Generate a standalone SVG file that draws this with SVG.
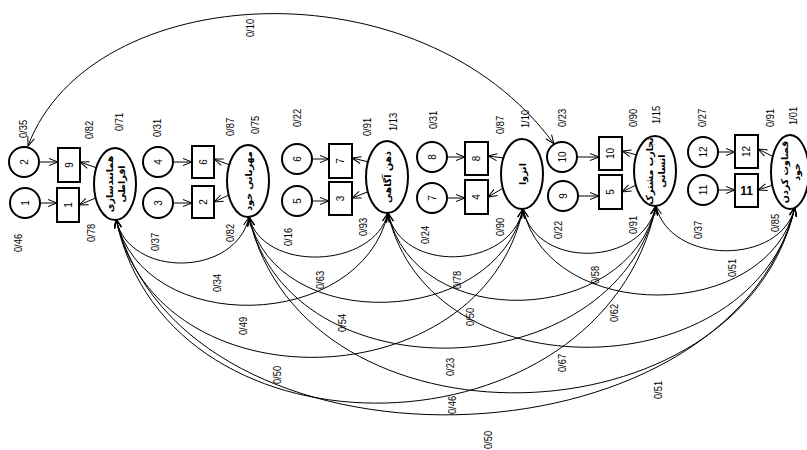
<svg xmlns="http://www.w3.org/2000/svg" width="807" height="450" viewBox="0 0 807 450">
<style>
.n{fill:#fff;stroke:#000;stroke-width:2}
.c{fill:none;stroke:#000;stroke-width:1}
.a{marker-end:url(#ah)}
.d{marker-start:url(#ah);marker-end:url(#ah)}
text{font-family:"Liberation Sans",Arial,sans-serif;font-size:11px;fill:#000;text-anchor:middle;dominant-baseline:central}
.s{font-size:10px}
.p{font-family:"DejaVu Sans","Noto Sans",sans-serif;font-size:9.5px;font-weight:bold}
.b{font-weight:bold;font-size:12px}
</style>
<defs>
<marker id="ah" viewBox="-10 -5 11 10" refX="0" refY="0" markerWidth="11" markerHeight="10" markerUnits="userSpaceOnUse" orient="auto-start-reverse"><path d="M-9,-3.5L0,0L-9,3.5" fill="none" stroke="#000" stroke-width="1"/></marker>
</defs>

<g id="connectors" class="c">
<path class="a" d="M39,162H58"/><path class="a" d="M40,203H57"/>
<path class="a" d="M173,162H192"/><path class="a" d="M173,203H192"/>
<path class="a" d="M312,159H329"/><path class="a" d="M312,201H329"/>
<path class="a" d="M447,157H465"/><path class="a" d="M447,198H465"/>
<path class="a" d="M577,157H599"/><path class="a" d="M578,196H599"/>
<path class="a" d="M718,152H735"/><path class="a" d="M718,190H735"/>
<path class="a" d="M97,168L80,162"/><path class="a" d="M98,197L79,205"/>
<path class="a" d="M230,165L214,159"/><path class="a" d="M231,194L214,202"/>
<path class="a" d="M369,162L352,158"/><path class="a" d="M370,191L352,198"/>
<path class="a" d="M504,158L488,156"/><path class="a" d="M505,187L488,197"/>
<path class="a" d="M637,155L622,151"/><path class="a" d="M638,184L622,192"/>
<path class="a" d="M772,156L758,149"/><path class="a" d="M773,185L758,190"/>
<path class="d" d="M28,146C90,-20 420,-40 554,144"/>
<path class="d" d="M116,219C129,279 236,277 249,217"/>
<path class="d" d="M249,217C263,273 374,269 388,213"/>
<path class="d" d="M388,213C401,274 510,270 523,209"/>
<path class="d" d="M523,209C536,270 643,267 656,206"/>
<path class="d" d="M656,206C670,265 781,266 795,207"/>
<path class="d" d="M116,219C143,338 361,332 388,213"/>
<path class="d" d="M249,217C276,336 496,328 523,209"/>
<path class="d" d="M388,213C415,334 629,327 656,206"/>
<path class="d" d="M523,209C550,325 768,323 795,207"/>
<path class="d" d="M116,219C157,410 482,400 523,209"/>
<path class="d" d="M249,217C290,399 615,388 656,206"/>
<path class="d" d="M388,213C429,396 754,390 795,207"/>
<path class="d" d="M116,219C170,473 602,460 656,206"/>
<path class="d" d="M249,217C304,458 740,448 795,207"/>
<path class="d" d="M116,219C184,488 727,476 795,207"/>
</g>

<g id="e2"><circle class="n" cx="24" cy="162" r="15"/><text class="s" transform="translate(24,162) rotate(-90)">2</text></g>
<g id="e1"><circle class="n" cx="25" cy="203" r="15"/><text class="s" transform="translate(25,203) rotate(-90)">1</text></g>
<g id="v9"><rect class="n" x="58" y="148" width="22" height="34"/><text class="s" transform="translate(69,165) rotate(-90)">9</text></g>
<g id="v1"><rect class="n" x="57" y="188" width="22" height="34"/><text class="s" transform="translate(68,205) rotate(-90)">1</text></g>
<g id="f1"><ellipse class="n" cx="115" cy="184" rx="21" ry="36"/><text class="p" transform="translate(115,184) rotate(-90)"><tspan x="0" y="-6">همانندسازی</tspan><tspan x="0" y="6">افراطی</tspan></text></g>

<g id="e4"><circle class="n" cx="158" cy="162" r="15"/><text class="s" transform="translate(158,162) rotate(-90)">4</text></g>
<g id="e3"><circle class="n" cx="158" cy="203" r="15"/><text class="s" transform="translate(158,203) rotate(-90)">3</text></g>
<g id="v6"><rect class="n" x="192" y="146" width="22" height="32"/><text class="s" transform="translate(203,162) rotate(-90)">6</text></g>
<g id="v2"><rect class="n" x="192" y="186" width="22" height="32"/><text class="s" transform="translate(203,202) rotate(-90)">2</text></g>
<g id="f2"><ellipse class="n" cx="248" cy="181" rx="21" ry="36"/><text class="p" transform="translate(248,181) rotate(-90)">مهربانی خود</text></g>

<g id="e6"><circle class="n" cx="297" cy="159" r="15"/><text class="s" transform="translate(297,159) rotate(-90)">6</text></g>
<g id="e5"><circle class="n" cx="297" cy="201" r="15"/><text class="s" transform="translate(297,201) rotate(-90)">5</text></g>
<g id="v7"><rect class="n" x="329" y="144" width="23" height="34"/><text class="s" transform="translate(340.5,161) rotate(-90)">7</text></g>
<g id="v3"><rect class="n" x="329" y="182" width="23" height="33"/><text class="s" transform="translate(340.5,198.5) rotate(-90)">3</text></g>
<g id="f3"><ellipse class="n" cx="387" cy="177" rx="21" ry="36"/><text class="p" transform="translate(387,177) rotate(-90)">ذهن آگاهی</text></g>

<g id="e8"><circle class="n" cx="432" cy="157" r="15"/><text class="s" transform="translate(432,157) rotate(-90)">8</text></g>
<g id="e7"><circle class="n" cx="432" cy="198" r="15"/><text class="s" transform="translate(432,198) rotate(-90)">7</text></g>
<g id="v8"><rect class="n" x="465" y="142" width="23" height="33"/><text class="s" transform="translate(476.5,158.5) rotate(-90)">8</text></g>
<g id="v4"><rect class="n" x="465" y="180" width="23" height="34"/><text class="s" transform="translate(476.5,197) rotate(-90)">4</text></g>
<g id="f4"><ellipse class="n" cx="522" cy="174" rx="21" ry="35"/><text class="p" transform="translate(522,174) rotate(-90)">انزوا</text></g>

<g id="e10"><circle class="n" cx="562" cy="157" r="15"/><text class="s" transform="translate(562,157) rotate(-90)">10</text></g>
<g id="e9"><circle class="n" cx="563" cy="196" r="15"/><text class="s" transform="translate(563,196) rotate(-90)">9</text></g>
<g id="v10"><rect class="n" x="599" y="137" width="23" height="33"/><text class="s" transform="translate(610.5,153.5) rotate(-90)">10</text></g>
<g id="v5"><rect class="n" x="599" y="175" width="23" height="34"/><text class="s" transform="translate(610.5,192) rotate(-90)">5</text></g>
<g id="f5"><ellipse class="n" cx="655" cy="171" rx="21" ry="35"/><text class="p" transform="translate(655,171) rotate(-90)"><tspan x="0" y="-6">تجارب مشترک</tspan><tspan x="0" y="6">انسانی</tspan></text></g>

<g id="e12"><circle class="n" cx="703" cy="152" r="15"/><text class="s" transform="translate(703,152) rotate(-90)">12</text></g>
<g id="e11"><circle class="n" cx="703" cy="190" r="15"/><text class="s" transform="translate(703,190) rotate(-90)">11</text></g>
<g id="v12"><rect class="n" x="735" y="135" width="23" height="33"/><text class="s" transform="translate(746.5,151.5) rotate(-90)">12</text></g>
<g id="v11"><rect class="n" x="735" y="174" width="23" height="33"/><text class="b" x="746.5" y="190.5">11</text></g>
<g id="f6"><ellipse class="n" cx="790" cy="172" rx="19" ry="37"/><text class="p" transform="translate(790,172) rotate(-90)"><tspan x="0" y="-6">قضاوت کردن</tspan><tspan x="0" y="6">خود</tspan></text></g>

<g id="labels">
<text transform="translate(250,28) rotate(-90) scale(.85,1)">0/10</text>
<text transform="translate(23,129) rotate(-90) scale(.85,1)">0/35</text>
<text transform="translate(89,130) rotate(-90) scale(.85,1)">0/82</text>
<text transform="translate(119,122) rotate(-90) scale(.85,1)">0/71</text>
<text transform="translate(157,128) rotate(-90) scale(.85,1)">0/31</text>
<text transform="translate(230,127) rotate(-90) scale(.85,1)">0/87</text>
<text transform="translate(255,125) rotate(-90) scale(.85,1)">0/75</text>
<text transform="translate(297,118) rotate(-90) scale(.85,1)">0/22</text>
<text transform="translate(367,127) rotate(-90) scale(.85,1)">0/91</text>
<text transform="translate(393,122) rotate(-90) scale(.85,1)">1/13</text>
<text transform="translate(433,120) rotate(-90) scale(.85,1)">0/31</text>
<text transform="translate(500,125) rotate(-90) scale(.85,1)">0/87</text>
<text transform="translate(525,119) rotate(-90) scale(.85,1)">1/10</text>
<text transform="translate(562,118) rotate(-90) scale(.85,1)">0/23</text>
<text transform="translate(633,118) rotate(-90) scale(.85,1)">0/90</text>
<text transform="translate(656,115) rotate(-90) scale(.85,1)">1/15</text>
<text transform="translate(702,118) rotate(-90) scale(.85,1)">0/27</text>
<text transform="translate(770,118) rotate(-90) scale(.85,1)">0/91</text>
<text transform="translate(793,116) rotate(-90) scale(.85,1)">1/01</text>
<text transform="translate(18,243) rotate(-90) scale(.85,1)">0/46</text>
<text transform="translate(91,233) rotate(-90) scale(.85,1)">0/78</text>
<text transform="translate(155,242) rotate(-90) scale(.85,1)">0/37</text>
<text transform="translate(230,233) rotate(-90) scale(.85,1)">0/82</text>
<text transform="translate(288,237) rotate(-90) scale(.85,1)">0/16</text>
<text transform="translate(363,227) rotate(-90) scale(.85,1)">0/93</text>
<text transform="translate(425,235) rotate(-90) scale(.85,1)">0/24</text>
<text transform="translate(500,227) rotate(-90) scale(.85,1)">0/90</text>
<text transform="translate(558,230) rotate(-90) scale(.85,1)">0/22</text>
<text transform="translate(633,225) rotate(-90) scale(.85,1)">0/91</text>
<text transform="translate(698,230) rotate(-90) scale(.85,1)">0/37</text>
<text transform="translate(775,223) rotate(-90) scale(.85,1)">0/85</text>
<text transform="translate(217,283) rotate(-90) scale(.85,1)">0/34</text>
<text transform="translate(320,280) rotate(-90) scale(.85,1)">0/63</text>
<text transform="translate(243,326) rotate(-90) scale(.85,1)">0/49</text>
<text transform="translate(342,323) rotate(-90) scale(.85,1)">0/54</text>
<text transform="translate(277,375) rotate(-90) scale(.85,1)">0/50</text>
<text transform="translate(457,280) rotate(-90) scale(.85,1)">0/78</text>
<text transform="translate(595,275) rotate(-90) scale(.85,1)">0/58</text>
<text transform="translate(732,268) rotate(-90) scale(.85,1)">0/51</text>
<text transform="translate(470,317) rotate(-90) scale(.85,1)">0/50</text>
<text transform="translate(614,313) rotate(-90) scale(.85,1)">0/62</text>
<text transform="translate(450,367) rotate(-90) scale(.85,1)">0/23</text>
<text transform="translate(562,363) rotate(-90) scale(.85,1)">0/67</text>
<text transform="translate(658,390) rotate(-90) scale(.85,1)">0/51</text>
<text transform="translate(452,405) rotate(-90) scale(.85,1)">0/46</text>
<text transform="translate(488,440) rotate(-90) scale(.85,1)">0/50</text>
</g>
</svg>
